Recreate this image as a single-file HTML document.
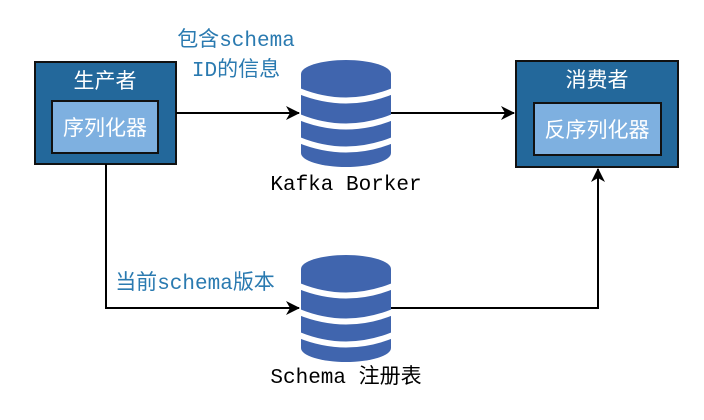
<!DOCTYPE html>
<html><head><meta charset="utf-8"><style>body{margin:0;background:#fff}</style></head><body>
<svg width="704" height="415" xmlns="http://www.w3.org/2000/svg" font-family="Liberation Sans, Noto Sans CJK SC, sans-serif">
<defs><marker id="a" markerWidth="14" markerHeight="14" refX="13" refY="7" orient="auto" markerUnits="userSpaceOnUse"><path d="M0,0 L14,7 L0,14 L4,7z" fill="#000"/></marker></defs>
<rect x="35" y="62" width="141" height="102" fill="#23689b" stroke="#111" stroke-width="2"/>
<rect x="52" y="101" width="106" height="52" fill="#7eb0e0" stroke="#111" stroke-width="2"/>
<text x="105" y="88" fill="#fff" font-size="21" text-anchor="middle">生产者</text>
<text x="105" y="135" fill="#fff" font-size="21" text-anchor="middle">序列化器</text>
<rect x="516" y="61" width="162" height="106" fill="#23689b" stroke="#111" stroke-width="2"/>
<rect x="534" y="103" width="127" height="52" fill="#7eb0e0" stroke="#111" stroke-width="2"/>
<text x="597" y="87" fill="#fff" font-size="21" text-anchor="middle">消费者</text>
<text x="597" y="137" fill="#fff" font-size="21" text-anchor="middle">反序列化器</text>
<g id="c">
<path d="M301,74 A45,14 0 0 1 391,74 V153 A45,14 0 0 1 301,153Z" fill="#4065ae"/>
<g stroke="#fff" stroke-width="6" fill="none">
<path d="M299,91 Q346,110 393,91"/>
<path d="M299,117 Q346,136 393,117"/>
<path d="M299,140 Q346,159 393,140"/>
</g>
</g>
<use href="#c" y="195"/>
<g stroke="#000" stroke-width="2" fill="none">
<path d="M176,113 H299" marker-end="url(#a)"/>
<path d="M391,113 H514" marker-end="url(#a)"/>
<path d="M106,164 V308 H299" marker-end="url(#a)"/>
<path d="M391,308 H598 V169" marker-end="url(#a)"/>
</g>
<text x="236" y="46" fill="#2a7ab0" font-size="21" text-anchor="middle">包含<tspan font-family="Liberation Mono, monospace">schema</tspan></text>
<text x="236" y="76" fill="#2a7ab0" font-size="21" text-anchor="middle"><tspan font-family="Liberation Mono, monospace">ID</tspan>的信息</text>
<text x="195" y="289" fill="#2a7ab0" font-size="21" text-anchor="middle">当前<tspan font-family="Liberation Mono, monospace">schema</tspan>版本</text>
<text x="346" y="190" fill="#000" font-size="21" text-anchor="middle" font-family="Liberation Mono, monospace">Kafka Borker</text>
<text x="346" y="383" fill="#000" font-size="21" text-anchor="middle"><tspan font-family="Liberation Mono, monospace">Schema </tspan>注册表</text>
</svg>
</body></html>
